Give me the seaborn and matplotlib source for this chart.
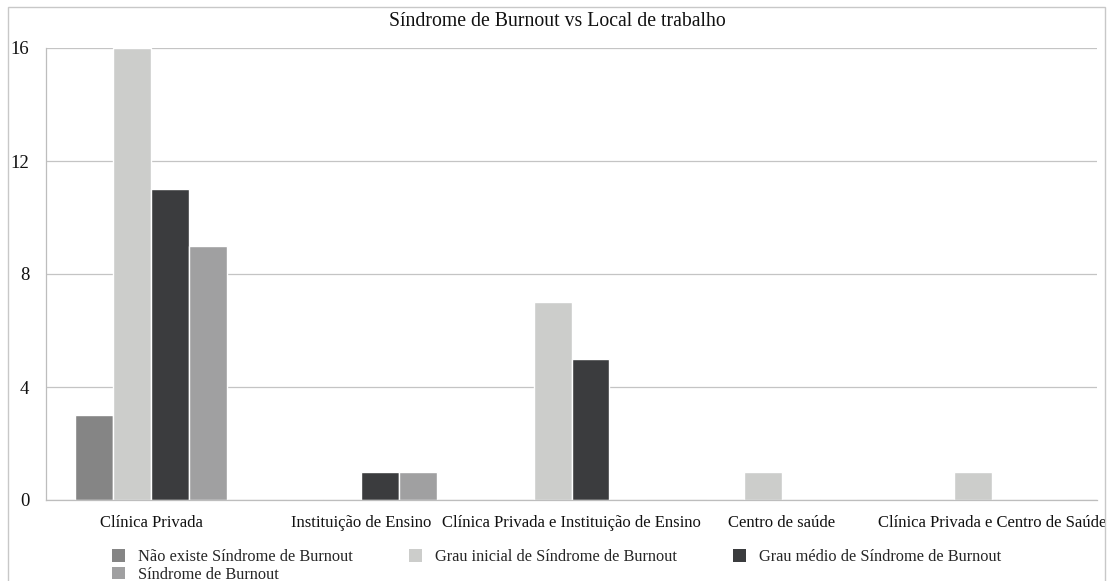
import matplotlib
matplotlib.use("Agg")
import matplotlib.pyplot as plt
from matplotlib.patches import Rectangle, Patch
import seaborn as sns
import pandas as pd

# Work place categories and counts per burnout level
locais = [
    "Clínica Privada",
    "Instituição de Ensino",
    "Clínica Privada e Instituição de Ensino",
    "Centro de saúde",
    "Clínica Privada e Centro de Saúde",
]
niveis = [
    "Não existe Síndrome de Burnout",
    "Grau inicial de Síndrome de Burnout",
    "Grau médio de Síndrome de Burnout",
    "Síndrome de Burnout",
]
nao_existe = [3, 0, 0, 0, 0]
grau_inicial = [16, 0, 7, 1, 1]
grau_medio = [11, 1, 5, 0, 0]
sindrome = [9, 1, 0, 0, 0]
y_ticks = [0, 4, 8, 12, 16]

cores = ["#858585", "#cccdcb", "#3b3c3e", "#a0a0a1"]

rows = []
for nivel, valores in zip(niveis, [nao_existe, grau_inicial, grau_medio, sindrome]):
    for local, v in zip(locais, valores):
        rows.append({"Local": local, "Nível": nivel, "Contagem": v})
df = pd.DataFrame(rows)

sns.set_theme(style="white")
plt.rcParams["font.family"] = ["Liberation Serif", "DejaVu Serif"]

fig = plt.figure(figsize=(11.08, 5.81), dpi=100)
ax = fig.add_axes([46 / 1108, 1 - 500 / 581, (1097 - 46) / 1108, (500 - 48) / 581])

sns.barplot(
    data=df, x="Local", y="Contagem", hue="Nível",
    order=locais, hue_order=niveis, palette=cores,
    width=0.72, edgecolor="white", linewidth=1.0,
    errorbar=None, legend=False, ax=ax, zorder=2,
)

ax.set_xlim(-0.5, len(locais) - 0.5)
ax.set_ylim(0, 16)
ax.set_yticks(y_ticks)
ax.set_yticklabels([str(t) for t in y_ticks], fontsize=13.5, color="#111111")
ax.set_xticks(range(len(locais)))
ax.set_xticklabels(locais, fontsize=12, color="#111111")
ax.set_xticks([i - 0.5 for i in range(len(locais) + 1)], minor=True)
ax.tick_params(axis="x", which="major", length=0, pad=11)
ax.tick_params(axis="x", which="minor", length=4, width=0.8, color="#bdbdbd", direction="out")
ax.tick_params(axis="y", which="major", length=3, width=0.8, color="#bdbdbd", pad=9)
ax.set_xlabel("")
ax.set_ylabel("")

ax.yaxis.grid(True, color="#c4c4c4", linewidth=0.9)
ax.set_axisbelow(True)
for side in ["top", "right"]:
    ax.spines[side].set_visible(False)
for side in ["left", "bottom"]:
    ax.spines[side].set_color("#bdbdbd")
    ax.spines[side].set_linewidth(0.9)

fig.text(0.503, 1 - 22 / 581, "Síndrome de Burnout vs Local de trabalho",
         ha="center", va="center", fontsize=14.2, color="#111111")

# Legend entries ordered so the three columns read row by row
ordem = [0, 3, 1, 2]
handles = [Patch(facecolor=cores[i], edgecolor="none") for i in ordem]
labels = [niveis[i] for i in ordem]
fig.legend(
    handles, labels, ncol=3, loc="upper left",
    bbox_to_anchor=(112 / 1108, 1 - 549 / 581),
    frameon=False, fontsize=11.8, handlelength=0.8, handleheight=0.8,
    handletextpad=0.8, columnspacing=3.4, labelspacing=0.1, borderpad=0,
    borderaxespad=0,
)

# Outer chart frame
fig.patches.append(Rectangle((8 / 1108, -0.01), (1105 - 8) / 1108, 1 - 7 / 581 + 0.01,
                             transform=fig.transFigure, fill=False,
                             edgecolor="#c8c8c8", linewidth=1.0))

fig.savefig("out.png", dpi=100)
